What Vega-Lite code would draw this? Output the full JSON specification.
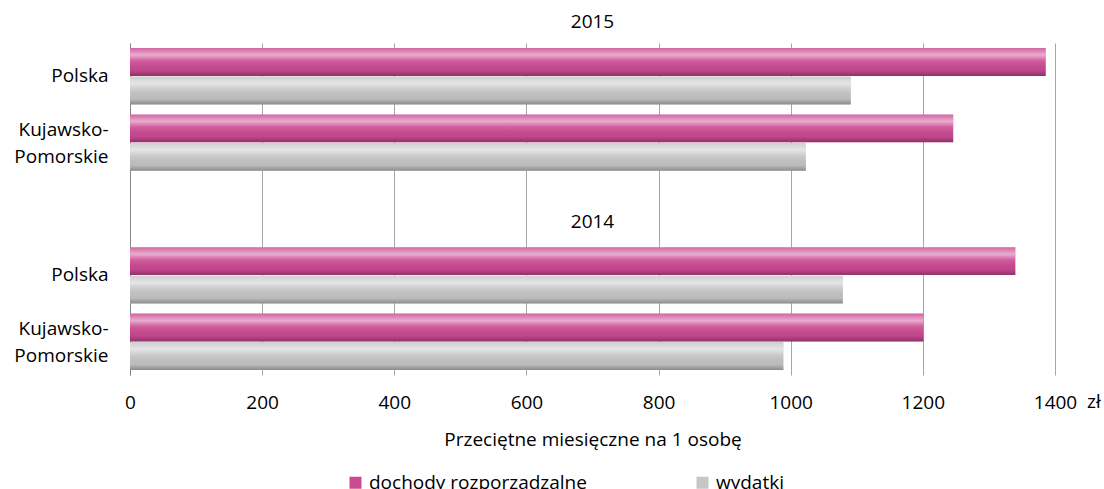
{
  "$schema": "https://vega.github.io/schema/vega-lite/v6.json",
  "width": 925,
  "height": 332,
  "autosize": {"type": "none"},
  "padding": {"left": 130, "top": 43, "right": 49, "bottom": 114},
  "background": "white",
  "config": {"view": {"stroke": null}, "font": "Open Sans"},
  "layer": [
    {
      "data": {"values": [
        {"row": "P15", "series": "dochody rozporządzalne", "value": 1386},
        {"row": "P15", "series": "wydatki", "value": 1091},
        {"row": "K15", "series": "dochody rozporządzalne", "value": 1246},
        {"row": "K15", "series": "wydatki", "value": 1023},
        {"row": "P14", "series": "dochody rozporządzalne", "value": 1340},
        {"row": "P14", "series": "wydatki", "value": 1079},
        {"row": "K14", "series": "dochody rozporządzalne", "value": 1201},
        {"row": "K14", "series": "wydatki", "value": 989}
      ]},
      "layer": [
        {
          "mark": {"type": "bar"},
          "encoding": {
            "y": {"field": "row", "type": "nominal", "sort": null,
              "scale": {"domain": ["P15", "K15", "gap", "P14", "K14"], "paddingInner": 0.15, "paddingOuter": 0.075},
              "axis": {"title": null, "domain": true, "domainColor": "#868686", "ticks": false, "grid": false,
                "labelFontSize": 19, "labelColor": "#000000", "labelPadding": 22, "labelLineHeight": 27,
                "labelOffset": {"condition": {"test": "datum.value == 'K15' || datum.value == 'K14'", "value": -13}, "value": 0},
                "labelExpr": "datum.value == 'gap' ? '' : ((datum.value == 'P15' || datum.value == 'P14') ? 'Polska' : ['Kujawsko-', 'Pomorskie'])"}},
            "yOffset": {"field": "series", "type": "nominal", "scale": {"domain": ["dochody rozporządzalne", "wydatki"], "paddingInner": 0.02}},
            "x": {"field": "value", "type": "quantitative",
              "scale": {"domain": [0, 1400], "nice": false},
              "axis": {"title": "Przeciętne miesięczne na 1 osobę", "titleFontSize": 19, "titleFontWeight": "normal", "titleColor": "#000000", "titlePadding": 18,
                "values": [0, 200, 400, 600, 800, 1000, 1200, 1400], "format": "d", "labelFlush": false,
                "domain": false, "ticks": false, "grid": true, "gridColor": "#A6A6A6",
                "labelFontSize": 19, "labelColor": "#000000", "labelPadding": 18}},
            "color": {"field": "series", "type": "nominal",
              "scale": {"domain": ["dochody rozporządzalne", "wydatki"], "range": ["#CC4993", "#C6C6C6"]},
              "legend": {"orient": "none", "legendX": 216, "legendY": 430, "direction": "horizontal", "title": null,
                "symbolType": "square", "symbolSize": 144, "symbolStrokeWidth": 0, "labelLimit": 400,
                "labelFontSize": 19, "labelColor": "#000000", "columnPadding": 106, "labelOffset": 4}}
          }
        },
        {
          "mark": {"type": "bar", "fill": {"gradient": "linear", "x1": 0, "y1": 0, "x2": 0, "y2": 1, "stops": [
            {"offset": 0, "color": "rgba(255,255,255,0.15)"},
            {"offset": 0.25, "color": "rgba(255,255,255,0.55)"},
            {"offset": 0.45, "color": "rgba(255,255,255,0.12)"},
            {"offset": 0.8, "color": "rgba(0,0,0,0.05)"},
            {"offset": 1, "color": "rgba(0,0,0,0.3)"}
          ]}},
          "encoding": {
            "y": {"field": "row", "type": "nominal"},
            "yOffset": {"field": "series", "type": "nominal"},
            "x": {"field": "value", "type": "quantitative"}
          }
        }
      ]
    },
    {
      "data": {"values": [{"row": "gap", "label": "2014"}]},
      "mark": {"type": "text", "fontSize": 19, "color": "#000000", "dy": 13, "align": "center"},
      "encoding": {
        "y": {"field": "row", "type": "nominal"},
        "x": {"datum": 700, "type": "quantitative"},
        "text": {"field": "label"}
      }
    },
    {
      "data": {"values": [{"row": "P15", "label": "2015"}]},
      "mark": {"type": "text", "fontSize": 19, "color": "#000000", "dy": -54, "align": "center"},
      "encoding": {
        "y": {"field": "row", "type": "nominal"},
        "x": {"datum": 700, "type": "quantitative"},
        "text": {"field": "label"}
      }
    },
    {
      "data": {"values": [{"row": "K14", "label": "zł"}]},
      "mark": {"type": "text", "fontSize": 19, "color": "#000000", "dy": 60, "dx": 32, "align": "left"},
      "encoding": {
        "y": {"field": "row", "type": "nominal"},
        "x": {"datum": 1400, "type": "quantitative"},
        "text": {"field": "label"}
      }
    }
  ]
}
